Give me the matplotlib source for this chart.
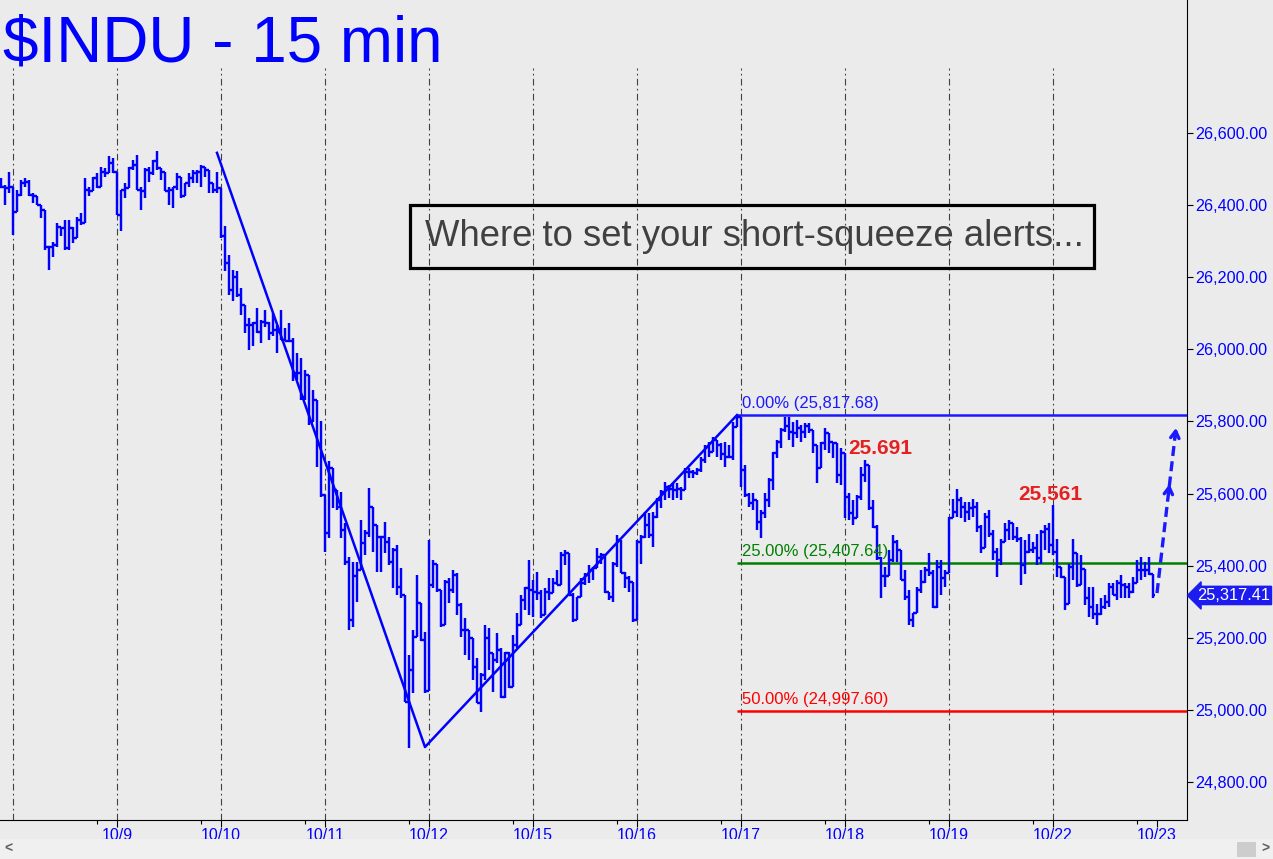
import numpy as np
import matplotlib.pyplot as plt
from matplotlib.collections import LineCollection
from matplotlib.patches import Rectangle

plt.rcParams['font.family'] = ['Liberation Sans', 'DejaVu Sans']

# --- 15-min bars (high / low / close), 26 bars a day ---
# last three bars of 10/5
H05 = [26475, 26456, 26493]
L05 = [26447, 26400, 26433]
C05 = [26451, 26447, 26451]

H08 = [26405, 26442, 26470, 26475, 26470, 26433, 26424, 26396, 26368, 26285, 26299, 26350, 26340,
       26359, 26359, 26340, 26368, 26378, 26475, 26451, 26479, 26488, 26507, 26502, 26535, 26530]
L08 = [26317, 26382, 26424, 26451, 26424, 26405, 26400, 26363, 26276, 26220, 26257, 26285, 26313,
       26276, 26276, 26294, 26331, 26345, 26350, 26424, 26451, 26447, 26479, 26479, 26488, 26488]
C08 = [26382, 26428, 26461, 26465, 26428, 26424, 26400, 26387, 26285, 26285, 26290, 26340, 26336,
       26280, 26336, 26308, 26359, 26350, 26442, 26438, 26475, 26451, 26493, 26488, 26516, 26493]

H09 = [26479, 26442, 26461, 26507, 26525, 26539, 26451, 26502, 26507, 26525, 26549, 26502, 26493,
       26451, 26451, 26488, 26479, 26461, 26488, 26498, 26498, 26511, 26507, 26498, 26461, 26493]
L09 = [26373, 26327, 26419, 26447, 26498, 26442, 26387, 26419, 26465, 26484, 26498, 26470, 26438,
       26400, 26391, 26442, 26419, 26424, 26451, 26461, 26461, 26451, 26479, 26433, 26433, 26433]
C09 = [26373, 26442, 26447, 26502, 26511, 26442, 26438, 26498, 26488, 26521, 26502, 26493, 26438,
       26442, 26451, 26479, 26424, 26461, 26475, 26488, 26493, 26507, 26498, 26461, 26442, 26447]

H10 = [26447, 26341, 26262, 26220, 26216, 26170, 26100, 26086, 26077, 26114, 26082, 26109, 26077,
       26100, 26068, 26109, 26059, 26072, 26031, 25989, 25975, 25943, 25929, 25887, 25800, 25800]
L10 = [26308, 26216, 26151, 26133, 26146, 26096, 26045, 25999, 26008, 26045, 26017, 26063, 26026,
       26036, 25989, 26026, 26022, 26022, 25911, 25915, 25860, 25860, 25790, 25801, 25674, 25590]
C10 = [26313, 26239, 26165, 26202, 26151, 26123, 26068, 26068, 26072, 26049, 26077, 26072, 26045,
       26054, 26049, 26026, 26022, 26022, 25934, 25934, 25869, 25929, 25798, 25860, 25735, 25596]

H11 = [25564, 25689, 25670, 25610, 25605, 25517, 25425, 25411, 25411, 25527, 25499, 25615, 25564,
       25513, 25480, 25522, 25480, 25448, 25457, 25393, 25319, 25152, 25222, 25374, 25296, 25217]
L11 = [25439, 25476, 25559, 25554, 25476, 25402, 25222, 25231, 25300, 25393, 25430, 25480, 25439,
       25383, 25383, 25434, 25402, 25337, 25319, 25310, 25023, 24893, 25046, 25203, 25190, 25046]
C11 = [25490, 25670, 25610, 25564, 25499, 25411, 25249, 25370, 25388, 25462, 25490, 25564, 25513,
       25480, 25480, 25467, 25411, 25443, 25342, 25319, 25023, 25111, 25203, 25296, 25194, 25051]

H12 = [25471, 25416, 25406, 25332, 25360, 25365, 25388, 25379, 25296, 25254, 25222, 25198, 25143,
       25101, 25235, 25226, 25157, 25212, 25171, 25161, 25161, 25208, 25268, 25319, 25342, 25416]
L12 = [25337, 25337, 25328, 25231, 25296, 25296, 25323, 25263, 25203, 25152, 25138, 25083, 25018,
       24995, 25083, 25111, 25050, 25129, 25032, 25032, 25060, 25129, 25171, 25254, 25277, 25263]
C12 = [25346, 25406, 25332, 25235, 25356, 25332, 25374, 25291, 25222, 25222, 25198, 25120, 25018,
       25097, 25198, 25157, 25138, 25166, 25037, 25157, 25064, 25180, 25235, 25305, 25337, 25332]

H15 = [25360, 25383, 25332, 25337, 25365, 25365, 25388, 25439, 25443, 25434, 25323, 25314, 25365,
       25379, 25402, 25397, 25448, 25434, 25430, 25328, 25411, 25485, 25471, 25383, 25370, 25356]
L15 = [25259, 25305, 25254, 25273, 25305, 25328, 25346, 25346, 25402, 25319, 25245, 25254, 25314,
       25346, 25351, 25360, 25393, 25406, 25323, 25305, 25300, 25397, 25379, 25337, 25328, 25245]
C15 = [25328, 25323, 25263, 25328, 25323, 25351, 25346, 25430, 25434, 25319, 25249, 25314, 25351,
       25374, 25388, 25393, 25425, 25430, 25328, 25314, 25406, 25471, 25379, 25365, 25356, 25249]

H16 = [25471, 25485, 25550, 25545, 25550, 25587, 25610, 25633, 25624, 25628, 25628, 25619, 25670,
       25670, 25665, 25670, 25702, 25735, 25744, 25758, 25748, 25739, 25744, 25735, 25799, 25817.68]
L16 = [25351, 25406, 25476, 25476, 25452, 25531, 25559, 25582, 25587, 25582, 25587, 25582, 25610,
       25642, 25642, 25651, 25661, 25684, 25702, 25716, 25702, 25693, 25674, 25702, 25693, 25795]
C16 = [25466, 25480, 25513, 25485, 25536, 25582, 25605, 25619, 25614, 25610, 25614, 25610, 25661,
       25661, 25656, 25665, 25693, 25730, 25716, 25748, 25735, 25711, 25702, 25702, 25785, 25813]

H17 = [25712, 25679, 25601, 25601, 25582, 25554, 25601, 25642, 25716, 25749, 25781, 25813, 25813,
       25799, 25804, 25790, 25795, 25795, 25758, 25735, 25744, 25781, 25767, 25744, 25735, 25725]
L17 = [25619, 25591, 25564, 25555, 25499, 25476, 25531, 25564, 25610, 25698, 25725, 25772, 25749,
       25730, 25753, 25744, 25753, 25767, 25712, 25628, 25679, 25721, 25712, 25698, 25628, 25624]
C17 = [25665, 25596, 25573, 25582, 25522, 25545, 25582, 25638, 25712, 25744, 25776, 25786, 25772,
       25767, 25781, 25772, 25786, 25776, 25735, 25670, 25739, 25767, 25744, 25739, 25651, 25712]

H18 = [25651, 25601, 25582, 25596, 25675, 25693, 25679, 25582, 25513, 25425, 25397, 25443, 25485,
       25471, 25443, 25388, 25333, 25268, 25342, 25388, 25397, 25434, 25388, 25416, 25416, 25388]
L18 = [25531, 25527, 25513, 25541, 25582, 25633, 25554, 25504, 25416, 25309, 25342, 25379, 25411,
       25411, 25360, 25305, 25236, 25231, 25268, 25323, 25351, 25370, 25282, 25282, 25319, 25342]
C18 = [25591, 25545, 25531, 25591, 25651, 25679, 25559, 25508, 25420, 25370, 25370, 25416, 25467,
       25443, 25360, 25314, 25249, 25268, 25333, 25356, 25388, 25379, 25286, 25397, 25365, 25379]

H19 = [25535, 25586, 25614, 25591, 25577, 25577, 25586, 25577, 25512, 25545, 25554, 25499, 25448,
       25475, 25517, 25526, 25512, 25508, 25480, 25471, 25489, 25466, 25489, 25499, 25512, 25517]
L19 = [25415, 25531, 25536, 25531, 25522, 25526, 25536, 25494, 25434, 25448, 25480, 25415, 25369,
       25401, 25471, 25471, 25471, 25466, 25346, 25378, 25434, 25434, 25401, 25406, 25443, 25434]
C19 = [25531, 25549, 25582, 25563, 25549, 25559, 25563, 25508, 25448, 25536, 25489, 25438, 25415,
       25466, 25499, 25517, 25480, 25475, 25401, 25438, 25443, 25448, 25420, 25494, 25503, 25457]

H22 = [25568, 25475, 25397, 25369, 25406, 25475, 25434, 25429, 25388, 25342, 25342, 25295, 25309,
       25318, 25351, 25351, 25360, 25374, 25351, 25351, 25369, 25415, 25425, 25411, 25425, 25378]
L22 = [25429, 25369, 25365, 25277, 25309, 25360, 25342, 25360, 25291, 25258, 25253, 25235, 25263,
       25281, 25286, 25318, 25304, 25309, 25309, 25309, 25323, 25351, 25360, 25369, 25374, 25310]
C22 = [25438, 25397, 25369, 25295, 25397, 25434, 25346, 25392, 25309, 25286, 25267, 25267, 25286,
       25300, 25342, 25318, 25351, 25346, 25342, 25328, 25351, 25388, 25388, 25388, 25378, 25317.41]

day_labels = ['10/9', '10/10', '10/11', '10/12', '10/15', '10/16', '10/17', '10/18', '10/19',
              '10/22', '10/23']
bars_per_day = 26

# trend lines drawn on the chart (bar index, price)
trend_x = [51, 103, 181]
trend_y = [26545, 24897, 25817.68]

# retracement levels
fib_levels = [25817.68, 25407.64, 24997.60]
fib_text = ['0.00% (25,817.68)', '25.00% (25,407.64)', '50.00% (24,997.60)']
fib_colors = ['#1a1aff', '#008000', '#ff0000']
fib_start = 181

# projected move arrow
arrow_start = (286, 25324)
arrow_end = (290.75, 25782)

# --- assemble ---
high = np.array(H05 + H08 + H09 + H10 + H11 + H12 + H15 + H16 + H17 + H18 + H19 + H22, float)
low = np.array(L05 + L08 + L09 + L10 + L11 + L12 + L15 + L16 + L17 + L18 + L19 + L22, float)
close = np.array(C05 + C08 + C09 + C10 + C11 + C12 + C15 + C16 + C17 + C18 + C19 + C22, float)
opn = np.r_[close[0], close[:-1]]
xs = np.arange(len(close)) - len(C05)
hi = np.maximum.reduce([high, opn, close])
lo = np.minimum.reduce([low, opn, close])

BG = '#ebebeb'
BLUE = '#0000ff'
W, Hpx = 1273, 859
fig = plt.figure(figsize=(W / 100, Hpx / 100), dpi=100, facecolor=BG)
ax = fig.add_axes([0, 39 / Hpx, 1187 / W, 820 / Hpx])
ax.set_facecolor(BG)
ax.set_xlim(-3.25, 293.5)
ax.set_ylim(24694.6, 26968.9)

# day separators
for d in range(0, 11):
    ax.vlines(d * bars_per_day, 24694.6, 26780, colors='#404040', lw=0.8,
              linestyles=(0, (6, 3, 1.5, 3)), zorder=1)

# OHLC bars
tw = 0.55
segs = []
for x, o, h, l, c in zip(xs, opn, hi, lo, close):
    segs.append([(x, l), (x, h)])
    segs.append([(x - tw, o), (x, o)])
    segs.append([(x, c), (x + tw, c)])
ax.add_collection(LineCollection(segs, colors=BLUE, linewidths=1.75, capstyle='butt', zorder=3))

# trend lines
ax.plot(trend_x, trend_y, color=BLUE, lw=1.8, zorder=4)

# retracement lines + labels
for lev, txt, col in zip(fib_levels, fib_text, fib_colors):
    ax.hlines(lev, fib_start, 293.5, colors=col, lw=1.8, zorder=2)
    ax.annotate(txt, xy=(fib_start + 1.2, lev), xytext=(0, 4), textcoords='offset pixels',
                color=col, fontsize=12, ha='left', va='bottom')

# swing-high labels
ax.text(208.8, 25724, '25.691', color='#e62020', fontsize=15, fontweight='bold', va='center')
ax.text(251.3, 25596, '25,561', color='#e62020', fontsize=15, fontweight='bold', va='center')

# dashed projection arrow with two heads
ax.plot([arrow_start[0], arrow_end[0]], [arrow_start[1], arrow_end[1]], color='#1a1aff',
        lw=2.4, ls=(0, (3, 1.6)), zorder=5)
for t in (0.66, 1.0):
    tip = (arrow_start[0] + t * (arrow_end[0] - arrow_start[0]),
           arrow_start[1] + t * (arrow_end[1] - arrow_start[1]))
    back = (arrow_start[0] + (t - 0.06) * (arrow_end[0] - arrow_start[0]),
            arrow_start[1] + (t - 0.06) * (arrow_end[1] - arrow_start[1]))
    ax.annotate('', xy=tip, xytext=back,
                arrowprops=dict(arrowstyle='->,head_length=0.5,head_width=0.3', color='#1a1aff',
                                lw=2.4, shrinkA=0, shrinkB=0), zorder=5)

# axes styling
for s in ('top', 'left'):
    ax.spines[s].set_visible(False)
ax.spines['right'].set_color('black')
ax.spines['bottom'].set_color('black')
ax.yaxis.tick_right()
yt = np.arange(24800, 26601, 200)
ax.set_yticks(yt)
ax.set_yticklabels([f'{v:,.2f}' for v in yt])
ax.tick_params(axis='y', direction='out', length=4.3, width=0.8, pad=2, labelsize=11.6,
               labelcolor=BLUE)
ax.set_xticks([bars_per_day * (k + 1) for k in range(len(day_labels))])
ax.set_xticklabels(day_labels)
ax.set_xticks([bars_per_day * (k + 1) - 5 for k in range(len(day_labels))], minor=True)
ax.tick_params(axis='x', which='major', direction='out', length=5, width=0.8, pad=1,
               labelsize=11.5, labelcolor=BLUE)
ax.tick_params(axis='x', which='minor', direction='out', length=3, width=0.8)

# last price tag
ax.annotate(f'{close[-1]:,.2f}', xy=(1.0, close[-1]), xycoords=('axes fraction', 'data'),
            xytext=(10, 0), textcoords='offset pixels', color='white', fontsize=11.8,
            ha='left', va='center', annotation_clip=False,
            bbox=dict(boxstyle='larrow,pad=0.1', fc='#1c1cf0', ec='#1c1cf0'))

# title and comment box
fig.text(3 / W, 1 - 62 / Hpx, '$INDU - 15 min', color=BLUE, fontsize=46, ha='left',
         va='baseline')
fig.patches.append(Rectangle((410 / W, 1 - 268 / Hpx), 684 / W, 63 / Hpx, fill=False,
                             ec='black', lw=2.3, transform=fig.transFigure, zorder=6))
fig.text(754 / W, 1 - 237 / Hpx, 'Where to set your short-squeeze alerts...', color='#404040',
         fontsize=26.3, ha='center', va='center', zorder=7)

# scroll bar strip
fig.patches.append(Rectangle((0, 0), 1, 20 / Hpx, fc='#f0f0f0', ec='none',
                             transform=fig.transFigure, zorder=0))
fig.patches.append(Rectangle((1237 / W, 2 / Hpx), 19 / W, 15 / Hpx, fc='#cdcdcd', ec='none',
                             transform=fig.transFigure, zorder=1))
fig.text(8 / W, 10 / Hpx, '<', color='#606060', fontsize=10, fontweight='bold', ha='center',
         va='center')
fig.text(1265 / W, 10 / Hpx, '>', color='#606060', fontsize=10, fontweight='bold', ha='center',
         va='center')

fig.savefig('out.png', dpi=100, facecolor=BG)
